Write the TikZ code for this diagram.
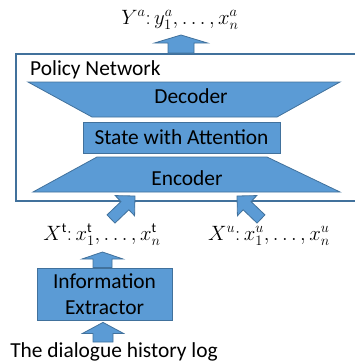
\documentclass[tikz,border=0pt]{standalone}
\usepackage{fontspec}
\setmainfont{Carlito}
\usepackage{tikz}
\usetikzlibrary{calc}

\definecolor{boxfill}{HTML}{5B9BD5}
\definecolor{boxline}{HTML}{41719C}

\tikzset{
  bluebox/.style={draw=boxline, fill=boxfill, line width=0.8pt, inner sep=0pt},
  barrow/.style={draw=boxline, fill=boxfill, line width=0.8pt, line join=miter},
  lbl/.style={inner sep=0pt, font=\fontsize{21.4}{26.5}\selectfont},
  mlbl/.style={inner sep=0pt, font=\fontsize{19.5}{24}\selectfont},
}

% block arrow: from, to, half shaft, half head, head length
\newcommand{\blockarrow}[5]{%
  \draw[barrow] let \p1=($(#2)-(#1)$), \n1={atan2(\y1,\x1)}, \n2={veclen(\x1,\y1)} in
    [shift={(#1)}, rotate=\n1]
    (0pt,{-#3pt}) -- ({\n2*1pt-#5pt},{-#3pt}) -- ({\n2*1pt-#5pt},{-#4pt}) -- ({\n2*1pt},0pt)
    -- ({\n2*1pt-#5pt},{#4pt}) -- ({\n2*1pt-#5pt},{#3pt}) -- (0pt,{#3pt}) -- cycle;}

\begin{document}
\begin{tikzpicture}[x=1pt,y=-1pt]
\useasboundingbox (0,0) rectangle (354,364);

%Shape: Policy network frame
\draw [boxline, line width=2.5pt] (16,54) rectangle (372,201);
% Text Node
\node [lbl, anchor=base west] (policy) at (30,75) {Policy Network};

%Shape: Decoder
\draw [barrow] (28,82) -- (340,82) -- (277,117) -- (92,117) -- cycle;
% Text Node
\node [lbl, anchor=base] (decoder) at (191,103) {Decoder};

% Text Node
\node [bluebox, lbl, minimum width=197pt, minimum height=31pt] (state) at (181.5,137.5) {State with Attention};

%Shape: Encoder
\draw [barrow] (97,157) -- (267,157) -- (340,192) -- (33,192) -- cycle;
% Text Node
\node [lbl, anchor=base] (encoder) at (187,185) {Encoder};

% Text Node
\node [mlbl, anchor=base] (ya) at (180,24) {$Y^{a}{:}\,y_1^{a},\ldots,x_n^{a}$};
% Text Node
\node [mlbl, anchor=base] (xt) at (102,240) {$X^{\mathrm{t}}{:}\,x_1^{\mathrm{t}},\ldots,x_n^{\mathrm{t}}$};
% Text Node
\node [mlbl, anchor=base] (xu) at (269,240) {$X^{u}{:}\,x_1^{u},\ldots,x_n^{u}$};
% Text Node
\node [bluebox, lbl, minimum width=135pt, minimum height=52pt, align=center] (extractor) at (104.5,294) {Information\\Extractor};
% Text Node
\node [lbl, anchor=base] (history) at (114,357) {The dialogue history log};

% arrow ends
\coordinate (outS) at (181,53);
\coordinate (outT) at (181,35);
\coordinate (xtS) at (111,219);
\coordinate (xtT) at (135,196);
\coordinate (xuS) at (261,219);
\coordinate (xuT) at (237,196);
\coordinate (exS) at ($(extractor.north)+(-2,0)$);
\coordinate (exT) at (102.5,252);
\coordinate (hiS) at (103,342);
\coordinate (hiT) at ($(extractor.south)+(-1.5,2)$);

%Block arrows
\blockarrow{outS}{outT}{13}{26.5}{8}
\blockarrow{xtS}{xtT}{5.7}{14}{14}
\blockarrow{xuS}{xuT}{5.7}{14}{14}
\blockarrow{exS}{exT}{9.5}{20.5}{7}
\blockarrow{hiS}{hiT}{10}{20.5}{11}

\end{tikzpicture}
\end{document}
